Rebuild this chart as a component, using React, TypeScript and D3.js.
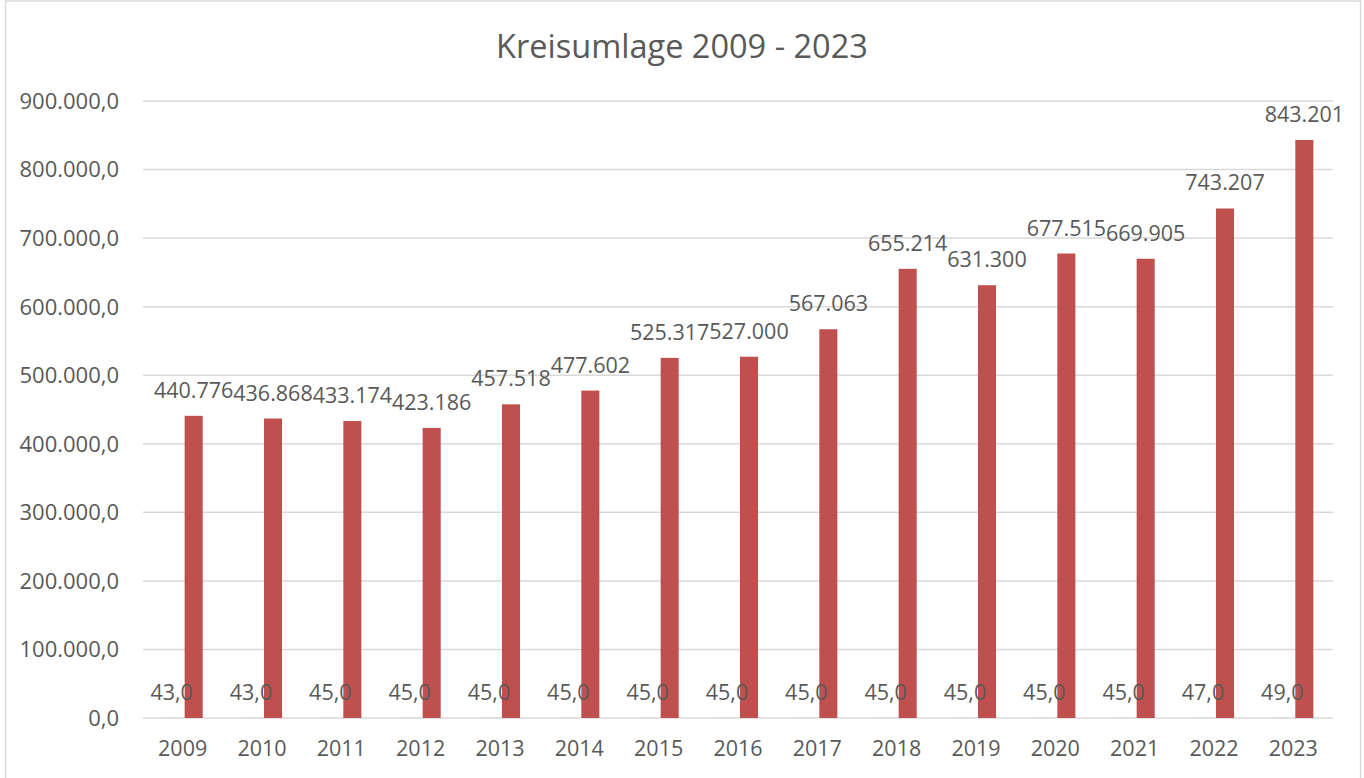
import React from "react";
import * as d3 from "d3";

const years = ["2009","2010","2011","2012","2013","2014","2015","2016","2017","2018","2019","2020","2021","2022","2023"];
const hebesatz = [43, 43, 45, 45, 45, 45, 45, 45, 45, 45, 45, 45, 45, 47, 49];
const kreisumlage = [440776, 436868, 433174, 423186, 457518, 477602, 525317, 527000, 567063, 655214, 631300, 677515, 669905, 743207, 843201];
const yTicks = [0, 100000, 200000, 300000, 400000, 500000, 600000, 700000, 800000, 900000];
const seriesKeys = ["hebesatz", "kreisumlage"];
const title = "Kreisumlage 2009 - 2023";

const W = 1364, H = 778;
const plot = { left: 143, right: 1333, top: 101, bottom: 718 };
const FONT = "'Open Sans', 'DejaVu Sans', sans-serif";
const TEXT = "#595959";
const GRID = "#D9D9D9";
const RED = "#C0504D";
const FS = 21.5;

const de = d3.formatLocale({ decimal: ",", thousands: ".", grouping: [3], currency: ["", " €"] });
const fmtAxis = de.format(",.1f");
const fmtInt = de.format(",.0f");
const fmtRate = de.format(",.1f");

export default function App() {
  const x0 = d3.scaleBand<string>().domain(years).range([plot.left, plot.right]).paddingInner(0.495).paddingOuter(0.2475);
  const x1 = d3.scaleBand<string>().domain(seriesKeys).range([0, x0.bandwidth()]).paddingInner(0.18);
  const y = d3.scaleLinear().domain([0, 900000]).range([plot.bottom, plot.top]);
  const bw = x1.bandwidth();

  return (
    <svg width={W} height={H} style={{ position: "absolute", left: 0, top: 0, background: "#fff" }} fontFamily={FONT}>
      <rect x={0} y={0} width={W} height={H} fill="#fff" />
      <rect x={5.5} y={1} width={1355} height={800} fill="#fff" stroke={GRID} strokeWidth={1.5} />
      <text x={682} y={47} textAnchor="middle" dy="0.35em" fontSize={32.5} fill={TEXT}>{title}</text>
      {yTicks.map((t) => (
        <g key={t}>
          <line x1={plot.left} x2={plot.right} y1={y(t)} y2={y(t)} stroke={GRID} strokeWidth={1.5} />
          <text x={119} y={y(t)} dy="0.36em" textAnchor="end" fontSize={FS + 0.5} fill={TEXT}>{fmtAxis(t)}</text>
        </g>
      ))}
      {years.map((yr, i) => {
        const cx = (x0(yr) as number) + x0.bandwidth() / 2;
        const xa = (x0(yr) as number) + (x1("hebesatz") as number);
        const xb = (x0(yr) as number) + (x1("kreisumlage") as number);
        return (
          <g key={yr}>
            <rect x={xa} y={y(hebesatz[i])} width={bw} height={plot.bottom - y(hebesatz[i])} fill={RED} />
            <rect x={xb} y={y(kreisumlage[i])} width={bw} height={plot.bottom - y(kreisumlage[i])} fill={RED} />
            <text x={xb + bw / 2} y={y(kreisumlage[i]) - 18} textAnchor="middle" fontSize={FS} fill={TEXT}>{fmtInt(kreisumlage[i])}</text>
            <text x={xa + bw / 2} y={y(hebesatz[i]) - 18} textAnchor="middle" fontSize={FS} fill={TEXT}>{fmtRate(hebesatz[i])}</text>
            <text x={cx} y={756} textAnchor="middle" fontSize={FS} fill={TEXT}>{yr}</text>
          </g>
        );
      })}
    </svg>
  );
}
